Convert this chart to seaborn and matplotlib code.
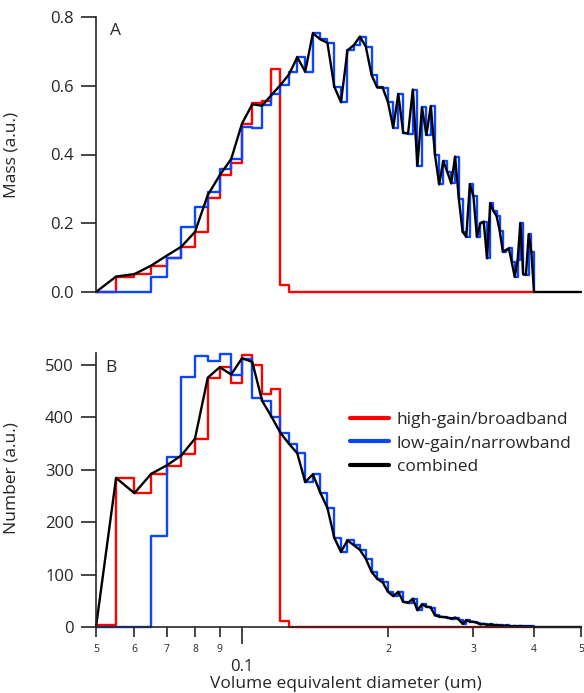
import numpy as np
import pandas as pd
import matplotlib
matplotlib.use("Agg")
import matplotlib.pyplot as plt
import seaborn as sns
from matplotlib.ticker import FixedLocator, FixedFormatter, NullLocator

# ---------------- data ----------------
# bin start diameters (um), 0.005 um wide bins from 0.05 to 0.5
diameter = np.round(0.05 + 0.005 * np.arange(91), 3)

mass_high = [0.0, 0.045, 0.052, 0.077, 0.100, 0.132, 0.174, 0.274, 0.340, 0.374,
             0.490, 0.549, 0.556, 0.649, 0.020] + [0.0] * 56

mass_low = [0.0, 0.0, 0.0, 0.045, 0.098, 0.190, 0.248, 0.292, 0.358, 0.387,
            0.481, 0.476, 0.544, 0.575, 0.602, 0.641, 0.683, 0.641, 0.753, 0.735,
            0.725, 0.597, 0.552, 0.703, 0.718, 0.743, 0.714, 0.631, 0.595, 0.594,
            0.552, 0.478, 0.576, 0.463, 0.461, 0.589, 0.367, 0.537, 0.457, 0.541,
            0.399, 0.313, 0.381, 0.350, 0.316, 0.394, 0.270, 0.175, 0.161, 0.314,
            0.279, 0.161, 0.200, 0.205, 0.098, 0.258, 0.236, 0.220, 0.177, 0.117,
            0.122, 0.127, 0.086, 0.044, 0.093, 0.200, 0.051, 0.050, 0.168, 0.117,
            0.0]

mass_comb = [0.0, 0.045, 0.052, 0.077, 0.106, 0.132, 0.175, 0.282, 0.340, 0.387,
             0.490, 0.546, 0.542, 0.573, 0.602, 0.633, 0.683, 0.641, 0.753, 0.735,
             0.725, 0.597, 0.552, 0.703, 0.718, 0.743, 0.714, 0.631, 0.595, 0.594,
             0.552, 0.478, 0.576, 0.463, 0.461, 0.589, 0.367, 0.537, 0.457, 0.541,
             0.399, 0.313, 0.381, 0.350, 0.316, 0.394, 0.270, 0.175, 0.161, 0.314,
             0.279, 0.161, 0.200, 0.205, 0.098, 0.258, 0.236, 0.220, 0.177, 0.117,
             0.122, 0.127, 0.086, 0.044, 0.093, 0.200, 0.051, 0.050, 0.168, 0.117,
             0.0] + [0.0] * 20

num_high = [4, 284, 255, 292, 307, 329, 359, 475, 495, 465,
            519, 500, 443, 453, 11] + [0] * 56

num_low = [0, 0, 0, 173, 324, 476, 516, 506, 521, 481,
           511, 436, 430, 401, 370, 349, 331, 276, 291, 256,
           227, 170, 143, 165, 156, 147, 130, 105, 92, 85,
           67, 59, 67, 48, 46, 54, 32, 43, 39, 37,
           22, 20, 19, 18, 16, 18, 14, 6, 13, 10,
           10, 8, 5, 6, 4, 5, 3, 4, 3, 2,
           3, 2, 1, 2, 1, 2, 1, 1, 1, 1,
           0]

num_comb = [0, 284, 255, 292, 308, 327, 359, 475, 495, 481,
            512, 505, 431, 401, 370, 349, 331, 276, 291, 256,
            227, 170, 143, 165, 156, 147, 130, 105, 92, 85,
            67, 59, 67, 48, 46, 54, 32, 43, 39, 37,
            22, 20, 19, 18, 16, 18, 14, 6, 13, 10,
            10, 8, 5, 6, 4, 5, 3, 4, 3, 2,
            3, 2, 1, 2, 1, 2, 1, 1, 1, 1,
            0] + [0] * 20

series_labels = ["high-gain/broadband", "low-gain/narrowband", "combined"]
series_colors = ["#ff0000", "#0a46ff", "#000000"]

minor_ticks = [0.05, 0.06, 0.07, 0.08, 0.09, 0.2, 0.3, 0.4, 0.5]
minor_labels = ["5", "6", "7", "8", "9", "2", "3", "4", "5"]

# ---------------- style ----------------
sns.set_style("ticks")
plt.rcParams["font.family"] = ["Open Sans", "DejaVu Sans"]
plt.rcParams["axes.linewidth"] = 1.2

FS = 12.5
TFS = 12

W, H = 584, 693
fig = plt.figure(figsize=(W / 100, H / 100), dpi=100)
axA = fig.add_axes([96 / W, 1 - 292 / H, 485 / W, 275 / H])
axB = fig.add_axes([96 / W, 1 - 627 / H, 485 / W, 274 / H])

n_hw = len(mass_high)
dfA = pd.DataFrame({"d": diameter[:n_hw], "high": mass_high, "low": mass_low})
dfAc = pd.DataFrame({"d": diameter, "comb": mass_comb})
dfB = pd.DataFrame({"d": diameter[:n_hw], "high": num_high, "low": num_low})
dfBc = pd.DataFrame({"d": diameter, "comb": num_comb})

lw = 1.7
for ax, df, dfc in [(axA, dfA, dfAc), (axB, dfB, dfBc)]:
    sns.lineplot(data=df, x="d", y="high", ax=ax, color=series_colors[0],
                 drawstyle="steps-post", lw=lw, estimator=None, sort=False,
                 label=series_labels[0], clip_on=False)
    sns.lineplot(data=df, x="d", y="low", ax=ax, color=series_colors[1],
                 drawstyle="steps-post", lw=lw, estimator=None, sort=False,
                 label=series_labels[1], clip_on=False)
    sns.lineplot(data=dfc, x="d", y="comb", ax=ax, color=series_colors[2],
                 lw=lw, estimator=None, sort=False, label=series_labels[2],
                 clip_on=False)
    ax.set_xscale("log")
    ax.set_xlim(0.05, 0.5)
    for s in ["top", "right"]:
        ax.spines[s].set_visible(False)
    ax.tick_params(axis="y", direction="out", length=11, width=1.2,
                   labelsize=TFS, pad=5)

# panel A
axA.set_ylim(0, 0.8)
axA.set_yticks([0.0, 0.2, 0.4, 0.6, 0.8])
axA.set_yticklabels(["0.0", "0.2", "0.4", "0.6", "0.8"])
axA.spines["bottom"].set_visible(False)
axA.xaxis.set_major_locator(NullLocator())
axA.xaxis.set_minor_locator(NullLocator())
axA.set_xlabel("")
axA.set_ylabel("Mass (a.u.)", fontsize=FS)
axA.yaxis.set_label_coords(-0.158, 0.5)
axA.get_legend().remove()
axA.text(0.04, 0.95, "A", transform=axA.transAxes, fontsize=FS,
         ha="center", va="center")

# panel B
axB.set_ylim(0, 522)
axB.set_yticks([0, 100, 200, 300, 400, 500])
axB.set_yticklabels(["0", "100", "200", "300", "400", "500"])
axB.xaxis.set_major_locator(FixedLocator([0.1]))
axB.xaxis.set_major_formatter(FixedFormatter(["0.1"]))
axB.xaxis.set_minor_locator(FixedLocator(minor_ticks))
axB.xaxis.set_minor_formatter(FixedFormatter(minor_labels))
axB.tick_params(axis="x", which="major", direction="out", length=12,
                width=1.2, labelsize=TFS, pad=11)
axB.tick_params(axis="x", which="minor", direction="out", length=7,
                width=1.2, labelsize=7.5, pad=5)
axB.set_xlabel("Volume equivalent diameter (um)", fontsize=FS)
axB.xaxis.set_label_coords(0.515, -0.178)
axB.set_ylabel("Number (a.u.)", fontsize=FS)
axB.yaxis.set_label_coords(-0.158, 0.545)
axB.text(0.03, 0.945, "B", transform=axB.transAxes, fontsize=FS,
         ha="center", va="center")

leg = axB.legend(loc="upper left", bbox_to_anchor=(0.523, 0.785),
                 frameon=False, fontsize=FS, handlelength=2.25,
                 handletextpad=0.46, labelspacing=0.42, borderpad=0,
                 borderaxespad=0)
for h in leg.get_lines():
    h.set_linewidth(3)

fig.savefig("out.png", dpi=100)
